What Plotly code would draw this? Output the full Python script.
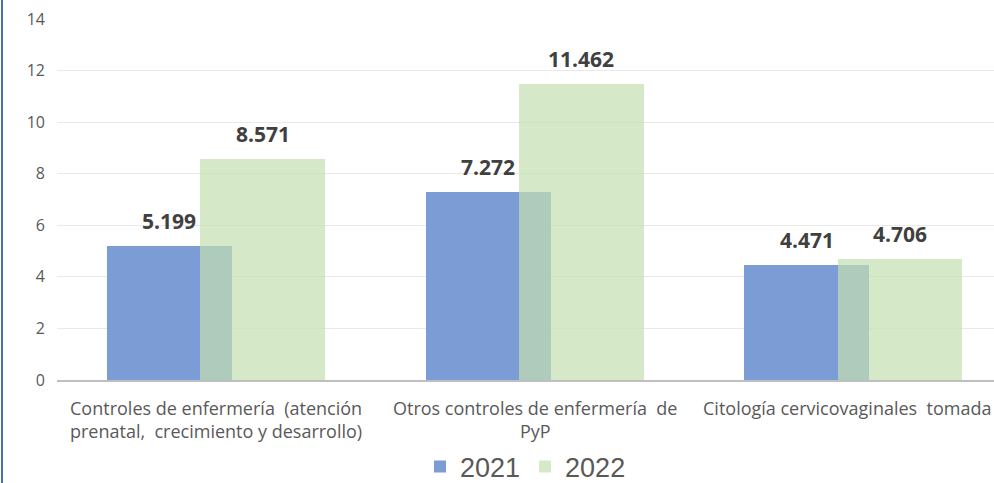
import plotly.graph_objects as go

categories = [
    "Controles de enfermería  (atención<br>prenatal,  crecimiento y desarrollo)",
    "Otros controles de enfermería  de<br>PyP",
    "Citología cervicovaginales  tomada",
]
series_names = ["2021", "2022"]
values_2021 = [5.199, 7.272, 4.471]
values_2022 = [8.571, 11.462, 4.706]
labels_2021 = ["5.199", "7.272", "4.471"]
labels_2022 = ["8.571", "11.462", "4.706"]
y_ticks = [0, 2, 4, 6, 8, 10, 12, 14]

BAR_W = 0.392
OFF_2021 = -0.343
OFF_2022 = -0.05

fig = go.Figure()
fig.add_trace(go.Bar(
    name=series_names[0], x=categories, y=values_2021,
    marker=dict(color="rgb(123,156,212)", line=dict(width=0)),
    width=BAR_W, offset=OFF_2021,
))
fig.add_trace(go.Bar(
    name=series_names[1], x=categories, y=values_2022,
    marker=dict(color="rgba(195,222,177,0.705)", line=dict(width=0)),
    width=BAR_W, offset=OFF_2022,
))

label_font = dict(family="Open Sans", size=21, color="#404040", weight="bold")
for i, (v, t) in enumerate(zip(values_2021, labels_2021)):
    fig.add_annotation(x=i + OFF_2021 + BAR_W / 2, y=v, text=t, showarrow=False,
                       xref="x", yref="y", yanchor="middle", yshift=25, font=label_font)
for i, (v, t) in enumerate(zip(values_2022, labels_2022)):
    fig.add_annotation(x=i + OFF_2022 + BAR_W / 2, y=v, text=t, showarrow=False,
                       xref="x", yref="y", yanchor="middle", yshift=25, font=label_font)

# category labels (as annotations so the last one can stay inside the picture)
cat_font = dict(family="Open Sans", size=18, color="#595959")
cat_xshift = [0, 0, -7]
for i, c in enumerate(categories):
    fig.add_annotation(x=i, y=0, text=c, showarrow=False, xref="x", yref="y",
                       xanchor="center", yanchor="top", yshift=-14,
                       xshift=cat_xshift[i], align="center", font=cat_font)

fig.update_layout(
    width=994, height=483,
    barmode="overlay",
    margin=dict(l=57, r=0, t=19, b=103),
    paper_bgcolor="white", plot_bgcolor="white",
    font=dict(family="Open Sans", color="#595959"),
    showlegend=True,
    legend=dict(
        orientation="h", x=0.5, xanchor="center",
        yref="container", y=16 / 483, yanchor="middle",
        font=dict(family="Liberation Sans Narrow, Liberation Sans", size=27, color="#595959"),
        itemwidth=30, traceorder="normal",
    ),
    xaxis=dict(
        showgrid=False, showline=True, linecolor="#bfbfbf", linewidth=2,
        showticklabels=False, ticks="",
        range=[-0.5, 2.441], automargin=False,
    ),
    yaxis=dict(
        range=[0, 14], tickvals=y_ticks, showgrid=True, gridcolor="#e9e9e9",
        gridwidth=1, zeroline=False, showline=False, ticks="",
        tickfont=dict(size=16, color="#595959"), ticklabelstandoff=11,
        automargin=False,
    ),
    bargap=0,
)
fig.add_shape(type="line", xref="paper", yref="paper",
              x0=-55/937, x1=-55/937, y0=-103/361, y1=1 + 19/361,
              line=dict(color="#4a6fb5", width=2))
fig.write_html("out.html", config={"displayModeBar": False},
               post_script="document.body.style.margin='0';")
